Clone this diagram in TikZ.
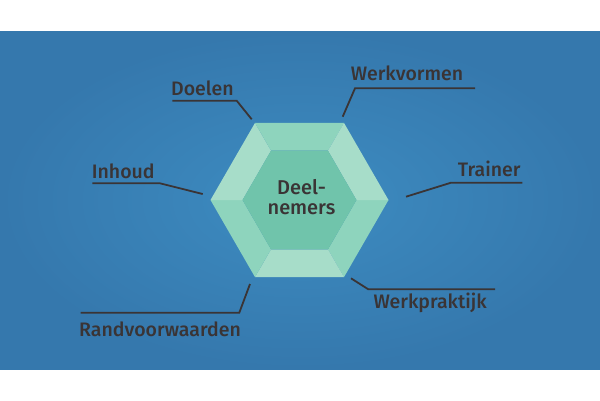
\documentclass[tikz,border=0pt]{standalone}
\usepackage{fontspec}
\setmainfont{Fira Sans Medium}
\usepackage{tikz}
\usetikzlibrary{calc}
\definecolor{bgin}{HTML}{3D8CC1}
\definecolor{bgout}{HTML}{3578AD}
\definecolor{facetmid}{HTML}{8ED4BD}
\definecolor{facetlight}{HTML}{A7DDC9}
\definecolor{hexcore}{HTML}{70C4AB}
\definecolor{ink}{HTML}{3A3435}
\tikzset{
  lbl/.style={text=ink,font=\fontsize{19.5}{19.5}\selectfont,inner sep=0pt},
  leader/.style={draw=ink,line width=1.8pt,line join=miter}
}
\begin{document}
\begin{tikzpicture}[x=1pt,y=-1pt]
\useasboundingbox (0,0) rectangle (600,400);
\shade[inner color=bgin,outer color=bgout] (0,31) rectangle (600,369);
\foreach \i in {0,...,5}{
  \pgfmathtruncatemacro{\odd}{mod(\i,2)}
  \ifnum\odd=0 \def\fc{facetmid}\else\def\fc{facetlight}\fi
  \fill[\fc] ($(299.5,200)+(\i*60:89)$) -- ($(299.5,200)+(\i*60+60:89)$) -- ($(299.5,200)+(\i*60+60:57)$) -- ($(299.5,200)+(\i*60:57)$) -- cycle;
}
\fill[hexcore] (299.5,200) ++(0:57) -- ++(120:57) -- ++(180:57) -- ++(240:57) -- ++(300:57) -- ++(0:57) -- cycle;
\node[lbl,align=center,font=\fontsize{20}{20.5}\selectfont] (deelnemers) at (301.5,197) {Deel-\\nemers};
\node[lbl,anchor=base west] (doelen) at (171,95) {Doelen};
\node[lbl,anchor=base west] (inhoud) at (91.7,178.3) {Inhoud};
\node[lbl,anchor=base west] (werkvormen) at (350.7,80) {Werkvormen};
\node[lbl,anchor=base east] (trainer) at (520.7,176.7) {Trainer};
\node[lbl,anchor=base west] (rand) at (79,336.7) {Randvoorwaarden};
\node[lbl,anchor=base west] (praktijk) at (373.3,308.3) {Werkpraktijk};
\coordinate (d1) at (172.3,100.7);
\coordinate (d2) at (236.7,100.7);
\coordinate (d3) at (251.7,119.3);
\coordinate (i1) at (92.3,183.3);
\coordinate (i2) at (160,183.3);
\coordinate (i3) at (202.7,194);
\coordinate (w1) at (475,88.3);
\coordinate (w2) at (355,88.3);
\coordinate (w3) at (342.7,116.7);
\coordinate (t1) at (522.3,182.7);
\coordinate (t2) at (451,182.7);
\coordinate (t3) at (406,196.7);
\coordinate (r1) at (80.7,312.7);
\coordinate (r2) at (239.3,312.7);
\coordinate (r3) at (250,284);
\coordinate (p1) at (495,289.3);
\coordinate (p2) at (368.3,289.3);
\coordinate (p3) at (351,278.3);
\draw[leader] (d1) -- (d2) -- (d3);
\draw[leader] (i1) -- (i2) -- (i3);
\draw[leader] (w1) -- (w2) -- (w3);
\draw[leader] (t1) -- (t2) -- (t3);
\draw[leader] (r1) -- (r2) -- (r3);
\draw[leader] (p1) -- (p2) -- (p3);
\end{tikzpicture}
\end{document}
